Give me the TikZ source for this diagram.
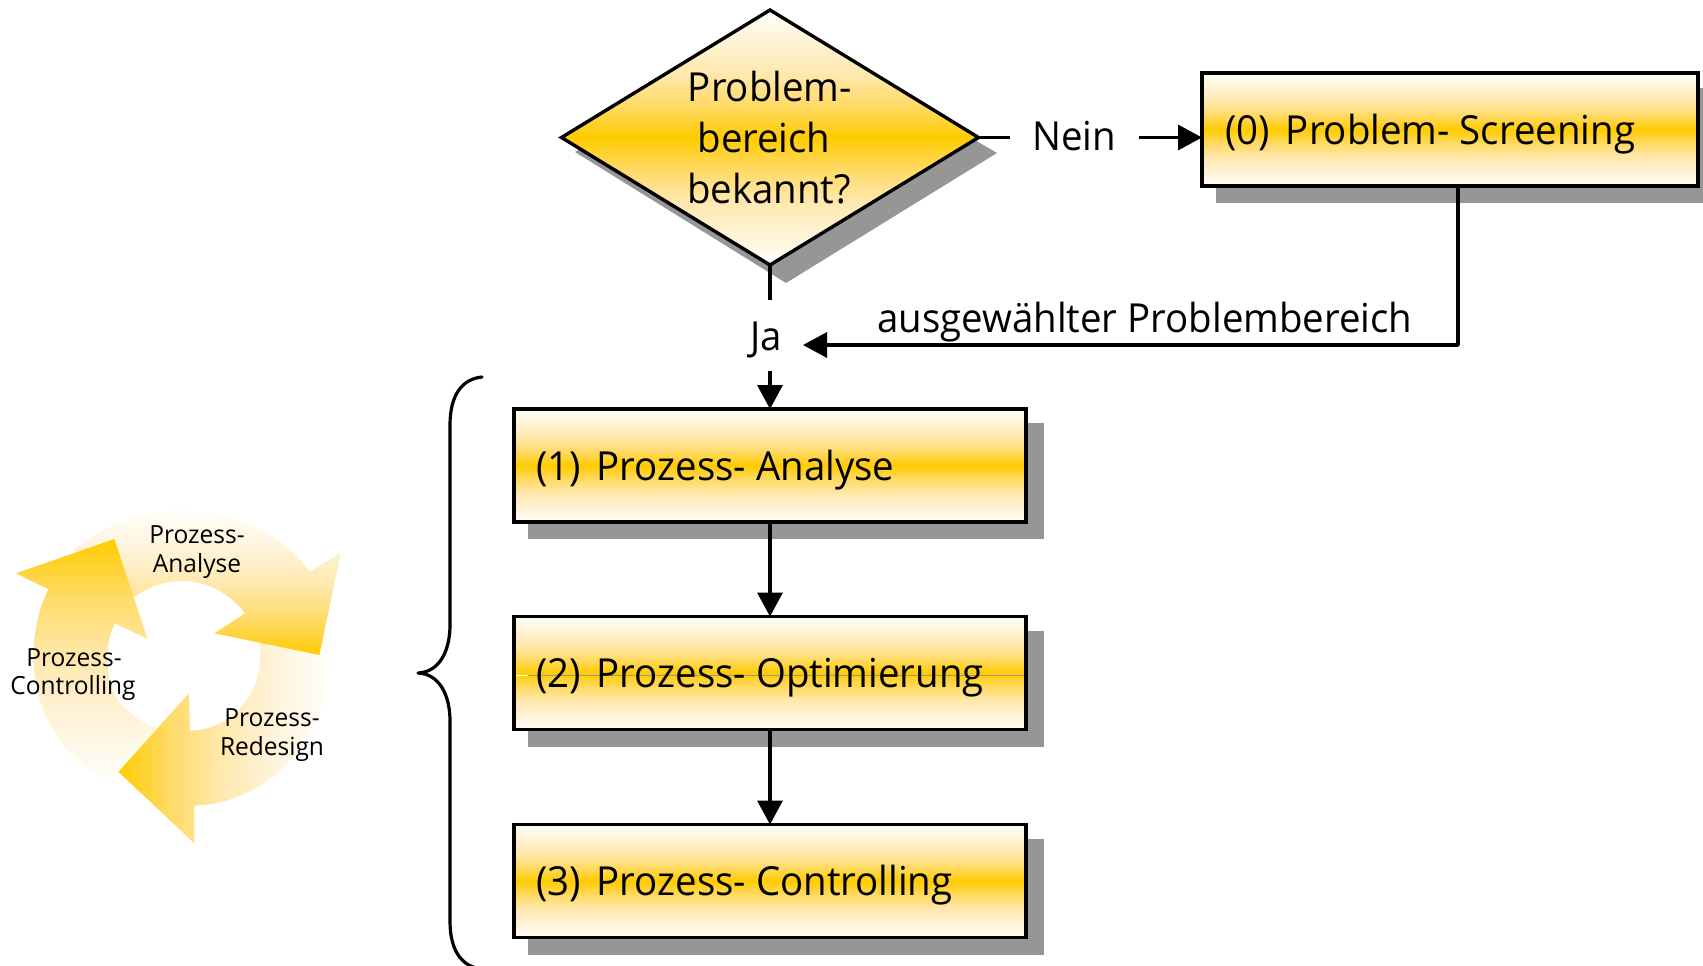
\documentclass[tikz,border=0pt]{standalone}
\usepackage{fontspec}
\newfontfamily\smallfont[FakeStretch=0.98]{Open Sans}
\newfontfamily\boxfont[FakeStretch=0.96]{Open Sans}
\usetikzlibrary{arrows.meta,shapes.geometric}
\definecolor{gold}{HTML}{FFCC00}
\definecolor{shadowgrey}{HTML}{969696}
\definecolor{stopA}{HTML}{FFFEFA}
\definecolor{stopB}{HTML}{FFF3D6}
\definecolor{stopC}{HTML}{FFE8AE}
\definecolor{stopD}{HTML}{FFDA66}
\definecolor{fadeB}{HTML}{FFF4DC}
\definecolor{fadeC}{HTML}{FFE9B0}
\definecolor{fadeD}{HTML}{FFDB6A}
% the path's bounding box is fitted to the 25bp..75bp range
\pgfdeclareverticalshading{goldband}{100bp}{color(0bp)=(stopA);color(25bp)=(stopA);color(31.25bp)=(stopB);color(37.5bp)=(stopC);color(43.75bp)=(stopD);color(50bp)=(gold);color(56.25bp)=(stopD);color(62.5bp)=(stopC);color(68.75bp)=(stopB);color(75bp)=(stopA);color(100bp)=(stopA)}
\pgfdeclareverticalshading{goldbottom}{100bp}{color(0bp)=(gold);color(25bp)=(gold);color(37.5bp)=(fadeD);color(50bp)=(fadeC);color(62.5bp)=(fadeB);color(75bp)=(stopA);color(100bp)=(stopA)}
\pgfdeclareverticalshading{goldtop}{100bp}{color(0bp)=(stopA);color(25bp)=(stopA);color(37.5bp)=(fadeB);color(50bp)=(fadeC);color(62.5bp)=(fadeD);color(75bp)=(gold);color(100bp)=(gold)}
\pgfdeclarehorizontalshading{goldleft}{100bp}{color(0bp)=(gold);color(25bp)=(gold);color(37.5bp)=(fadeD);color(50bp)=(fadeC);color(62.5bp)=(fadeB);color(75bp)=(stopA);color(100bp)=(stopA)}
\tikzset{
  x=1pt,y=-1pt,
  proc/.style={draw=black,line width=3.6pt,rectangle,outer sep=0pt,inner sep=0pt,
    shading=goldband,minimum width=512pt,minimum height=113pt},
  decide/.style={draw=black,line width=3.4pt,diamond,outer sep=0pt,inner sep=0pt,
    aspect=1.635,minimum width=417pt,minimum height=255pt,shading=goldband},
  big/.style={font=\fontsize{40}{40}\selectfont\boxfont,inner sep=0pt,text=black},
  small/.style={font=\fontsize{25}{25}\selectfont\smallfont,inner sep=0pt,text=black},
  conn/.style={line width=3.4pt,draw=black},
  flow/.style={conn,-{Triangle[length=24pt,width=25pt]}},
  drop/.style={fill=shadowgrey,draw=none},
}
\begin{document}
\begin{tikzpicture}
\useasboundingbox (0,0) rectangle (1703,966);

% ---- cycle (coordinates measured at 3x)
\begin{scope}[shift={(0,480)},x=0.33333pt,y=-0.33333pt]
  \shade[shading=goldleft]
    (355,875) -- (567,640) -- (570,752)
    .. controls (690,750) and (780,650) .. (780,530) -- (780,470) -- (990,470) -- (990,530)
    .. controls (990,780) and (800,970) .. (583,977) -- (583,1090) -- cycle;
  \shade[shading=goldbottom]
    (220,210) .. controls (310,135) and (420,90) .. (550,90)
    .. controls (700,90) and (840,155) .. (930,275)
    -- (1023,218) -- (958,525) -- (643,460) -- (735,400)
    .. controls (690,340) and (620,303) .. (545,303)
    .. controls (495,303) and (445,320) .. (405,350) -- cycle;
  \shade[shading=goldtop]
    (48,280) -- (343,177) -- (443,477) -- (345,430)
    .. controls (310,490) and (315,620) .. (360,670)
    .. controls (390,705) and (430,730) .. (470,745)
    -- (355,875) -- (330,905)
    .. controls (200,850) and (100,700) .. (100,530)
    .. controls (100,460) and (115,390) .. (145,328) -- cycle;
\end{scope}
\node[small,anchor=base] (ca1) at (197,543) {Prozess-};
\node[small,anchor=base] (ca2) at (197,572) {Analyse};
\node[small,anchor=base] (cc1) at (74,666) {Prozess-};
\node[small,anchor=base] (cc2) at (73,694) {Controlling};
\node[small,anchor=base] (cr1) at (272,726) {Prozess-};
\node[small,anchor=base] (cr2) at (272,755) {Redesign};

% ---- brace
\draw[line width=3.2pt,line cap=round,line join=round]
  (482,377) .. controls (462,379) and (450,395) .. (450,425)
  -- (450,625) .. controls (450,650) and (440,672) .. (418,673)
  .. controls (440,674) and (450,696) .. (450,721)
  -- (450,921) .. controls (450,951) and (462,967) .. (482,969);

% ---- shadows
\fill[drop] (575,152) -- (786,283) -- (997,153) -- (786,30) -- cycle;
\fill[drop] (1216,88) rectangle (1703,203);
\fill[drop] (528,423) rectangle (1044,539);
\fill[drop] (528,631) rectangle (1044,747);
\fill[drop] (528,839) rectangle (1044,955);

% ---- nodes
\node[decide] (d) at (770,137.5) {};
\node[proc,minimum width=496pt] (b0) at (1450,129.5) {};
\node[proc] (b1) at (770,465.5) {};
\node[proc] (b2) at (770,673) {};
\node[proc] (b3) at (770,881) {};
\draw[draw=shadowgrey,line width=0.7pt] (528,675) -- (1024,675);
\draw[draw=white,line width=0.7pt] (516,675) -- (528,675);

\node[big,anchor=base] (dt1) at (770,101) {Problem-};
\node[big,anchor=base] (dt2) at (764,152) {bereich};
\node[big,anchor=base] (dt3) at (769,203) {bekannt?};
\node[big,anchor=base west] (t0) at (1225,144) {(0)\hspace{6pt} Problem- Screening};
\node[big,anchor=base west] (t1) at (536,480) {(1)\hspace{6pt} Prozess- Analyse};
\node[big,anchor=base west] (t2) at (536,687) {(2)\hspace{6pt} Prozess- Optimierung};
\node[big,anchor=base west] (t3) at (536,895) {(3)\hspace{6pt} Prozess- Controlling};
\node[big,anchor=base] (nein) at (1074,150) {Nein};
\node[big,anchor=base] (ja) at (766.5,350) {Ja};
\node[big,anchor=base west] (sel) at (877,332) {ausgewählter Problembereich};

% ---- connectors
\coordinate (neinL) at (1010,137.5);
\coordinate (neinR) at (1139,137.5);
\coordinate (jaT) at (770,300);
\coordinate (jaB) at (770,371);
\coordinate (turn) at (1458,345);
\coordinate (jaE) at (803,345);
\draw[conn] (d.east) -- (neinL);
\draw[flow] (neinR) -- (neinR -| b0.west);
\draw[conn] (d.south) -- (jaT);
\draw[flow] (jaB) -- (jaB |- b1.north);
\draw[flow,line join=round] (b0.south -| turn) -- (turn) -- (jaE);
\draw[flow] (b1) -- (b2);
\draw[flow] (b2) -- (b3);
\end{tikzpicture}
\end{document}
